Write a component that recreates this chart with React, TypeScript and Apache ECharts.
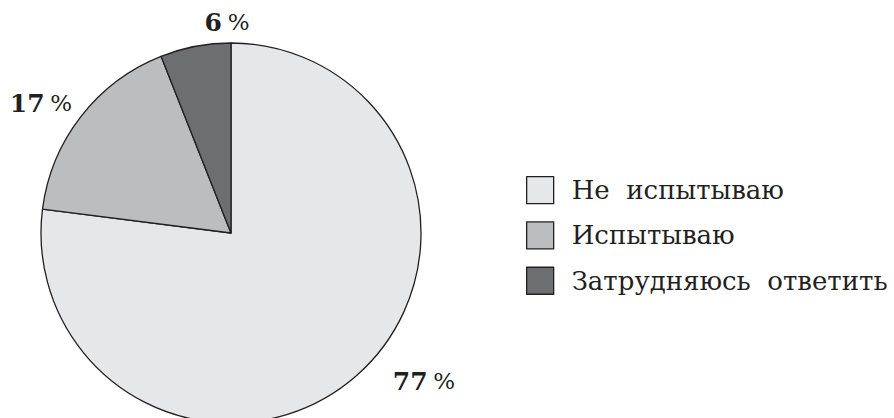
import React, { useEffect, useRef } from "react";
import * as echarts from "echarts";

const categories = ["Не  испытываю", "Испытываю", "Затрудняюсь  ответить"];
const values = [77, 17, 6];
const colors = ["#e6e7e8", "#bcbdbf", "#6d6e70"];
const labelPositions: [number, number][] = [
  [424, 381],
  [41, 103],
  [227, 22],
];

export default function App() {
  const ref = useRef<HTMLDivElement>(null);
  useEffect(() => {
    if (!ref.current) return;
    const chart = echarts.init(ref.current, null, { renderer: "svg" });
    chart.setOption({
      animation: false,
      backgroundColor: "#ffffff",
      legend: {
        orient: "vertical",
        left: 521,
        top: 171,
        itemWidth: 27,
        itemHeight: 27,
        itemGap: 17,
        icon: "rect",
        data: categories,
        textStyle: {
          fontFamily: "DejaVu Serif",
          fontSize: 26,
          color: "#231f20",
          padding: [0, 0, 0, 13],
        },
        itemStyle: { borderColor: "#231f20", borderWidth: 1.3 },
      },
      series: [
        {
          type: "pie",
          center: [231, 233],
          radius: 190,
          startAngle: 90,
          clockwise: true,
          itemStyle: { borderColor: "#231f20", borderWidth: 1.3 },
          label: {
            show: true,
            position: "outside",
            overflow: "none",
            formatter: (p: any) => `{n|${p.value}}{s| }{p|%}`,
            rich: {
              n: {
                fontFamily: "DejaVu Serif",
                fontSize: 25,
                fontWeight: "bold",
                color: "#231f20",
              },
              s: { fontFamily: "DejaVu Serif", fontSize: 18 },
              p: {
                fontFamily: "DejaVu Serif",
                fontSize: 23,
                color: "#231f20",
              },
            },
          },
          labelLine: { show: false },
          labelLayout: (params: any) => {
            const pos = labelPositions[params.dataIndex];
            return { x: pos[0], y: pos[1], align: "center", verticalAlign: "middle" };
          },
          data: categories.map((c, i) => ({
            name: c,
            value: values[i],
            itemStyle: { color: colors[i] },
          })),
        },
      ],
    });
    return () => chart.dispose();
  }, []);
  return (
    <div
      ref={ref}
      style={{ position: "fixed", left: 0, top: 0, width: 894, height: 418 }}
    />
  );
}
